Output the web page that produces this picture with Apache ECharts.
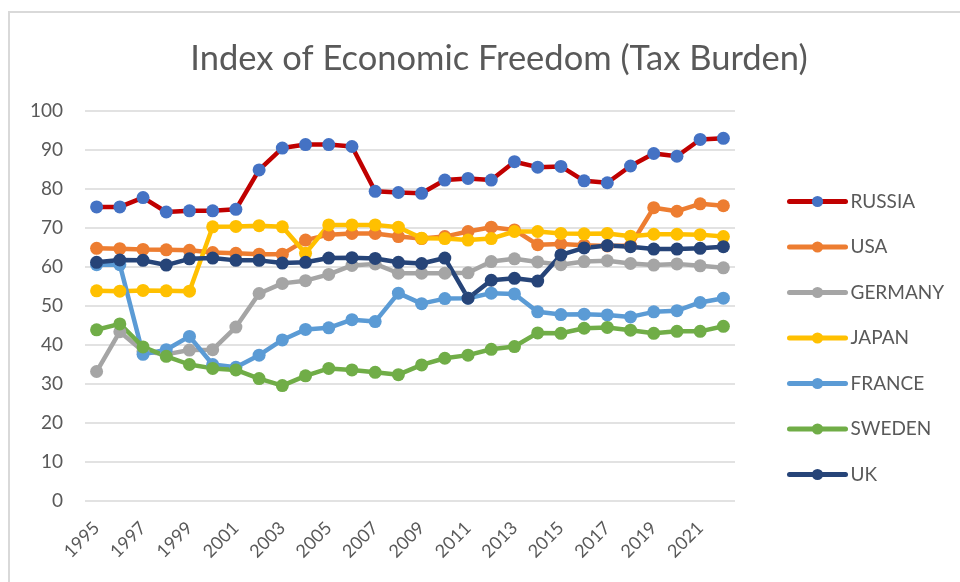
<!DOCTYPE html>
<html>
<head>
<meta charset="utf-8">
<script src="https://cdn.jsdelivr.net/npm/echarts@6/dist/echarts.min.js"></script>
<style>
  html, body { margin: 0; padding: 0; background: #fff; }
  #main { width: 960px; height: 582px; }
</style>
</head>
<body>
<div id="main"></div>
<script>
// Index of Economic Freedom - Tax Burden, 1995-2022
var years = ['1995', '1996', '1997', '1998', '1999', '2000', '2001', '2002', '2003', '2004',
  '2005', '2006', '2007', '2008', '2009', '2010', '2011', '2012', '2013', '2014',
  '2015', '2016', '2017', '2018', '2019', '2020', '2021', '2022']

var russia = [75.4, 75.4, 77.8, 74.1, 74.4, 74.4, 74.8, 84.9, 90.5, 91.4,
  91.4, 90.9, 79.4, 79.1, 78.9, 82.3, 82.7, 82.3, 87.0, 85.6,
  85.8, 82.1, 81.6, 85.9, 89.1, 88.4, 92.7, 93.0]
var usa = [64.8, 64.7, 64.5, 64.4, 64.3, 63.7, 63.5, 63.3, 63.3, 66.9,
  68.3, 68.6, 68.6, 67.8, 67.3, 67.8, 69.1, 70.2, 69.5, 65.7,
  65.9, 65.6, 65.4, 65.5, 75.2, 74.3, 76.2, 75.7]
var germany = [33.2, 43.4, 38.4, 37.6, 38.7, 38.8, 44.6, 53.2, 55.8, 56.5,
  58.1, 60.4, 60.8, 58.4, 58.4, 58.4, 58.5, 61.4, 62.1, 61.3,
  60.6, 61.4, 61.6, 60.9, 60.5, 60.8, 60.3, 59.8]
var japan = [53.9, 53.8, 54.0, 53.9, 53.8, 70.3, 70.4, 70.6, 70.3, 63.5,
  70.8, 70.8, 70.8, 70.2, 67.4, 67.3, 66.9, 67.3, 69.1, 69.1,
  68.6, 68.5, 68.6, 67.9, 68.4, 68.4, 68.3, 67.8]
var france = [60.6, 60.6, 37.6, 38.8, 42.2, 35.0, 34.3, 37.4, 41.3, 44.0,
  44.4, 46.5, 46.0, 53.3, 50.6, 51.9, 52.0, 53.3, 53.1, 48.5,
  47.8, 47.9, 47.7, 47.2, 48.5, 48.8, 50.9, 52.0]
var sweden = [43.9, 45.4, 39.5, 37.1, 35.0, 34.0, 33.6, 31.4, 29.6, 32.1,
  34.0, 33.6, 33.0, 32.4, 34.9, 36.6, 37.4, 38.9, 39.6, 43.1,
  43.0, 44.3, 44.5, 43.8, 43.0, 43.5, 43.5, 44.8]
var uk = [61.2, 61.8, 61.7, 60.5, 62.1, 62.3, 61.7, 61.7, 61.0, 61.2,
  62.3, 62.4, 62.2, 61.2, 60.9, 62.3, 52.0, 56.6, 57.1, 56.4,
  63.1, 64.9, 65.5, 65.2, 64.6, 64.6, 64.8, 65.2]

var chart = echarts.init(document.getElementById('main'))

function makeSeries(name, data, lineColor, dotColor) {
  return {
    name: name,
    type: 'line',
    data: data,
    symbol: 'circle',
    symbolSize: 13,
    lineStyle: { width: 4.5, color: lineColor, cap: 'round' },
    itemStyle: { color: dotColor || lineColor },
    emphasis: { disabled: true }
  }
}

var option = {
  backgroundColor: '#fff',
  animation: false,
  title: {
    text: 'Index of Economic Freedom (Tax Burden)',
    left: 494,
    top: 36,
    textAlign: 'center',
    textStyle: {
      fontFamily: 'Lato',
      fontWeight: 'normal',
      fontSize: 34.5,
      color: '#595959'
    }
  },
  legend: {
    orient: 'vertical',
    left: 782,
    top: 187,
    itemWidth: 56,
    itemHeight: 14,
    itemGap: 26.5,
    lineStyle: { width: 5, cap: 'round' },
    textStyle: { fontFamily: 'Lato', fontSize: 19, color: '#595959', padding: [0, 0, 0, 0] },
    data: ['RUSSIA', 'USA', 'GERMANY', 'JAPAN', 'FRANCE', 'SWEDEN', 'UK']
  },
  grid: {
    left: 85,
    right: 225,
    top: 111,
    bottom: 81
  },
  xAxis: {
    type: 'category',
    data: years,
    boundaryGap: true,
    axisLine: { show: false },
    axisTick: { show: false },
    axisLabel: {
      interval: 1,
      rotate: 45,
      margin: 24,
      fontFamily: 'Lato',
      fontSize: 18,
      color: '#595959'
    }
  },
  yAxis: {
    type: 'value',
    min: 0,
    max: 100,
    interval: 10,
    axisLabel: {
      margin: 22,
      fontFamily: 'Lato',
      fontSize: 19,
      color: '#595959'
    },
    splitLine: { lineStyle: { color: '#d9d9d9', width: 1.5 } }
  },
  graphic: [{
    type: 'rect',
    shape: { x: 9, y: 12, width: 1000, height: 620 },
    style: { fill: 'none', stroke: '#d9d9d9', lineWidth: 2 },
    silent: true
  }],
  series: [
    makeSeries('RUSSIA', russia, '#c00000', '#4472c4'),
    makeSeries('USA', usa, '#ed7d31'),
    makeSeries('GERMANY', germany, '#a5a5a5'),
    makeSeries('JAPAN', japan, '#ffc000'),
    makeSeries('FRANCE', france, '#5b9bd5'),
    makeSeries('SWEDEN', sweden, '#70ad47'),
    makeSeries('UK', uk, '#264478')
  ]
}

chart.setOption(option)
</script>
</body>
</html>
